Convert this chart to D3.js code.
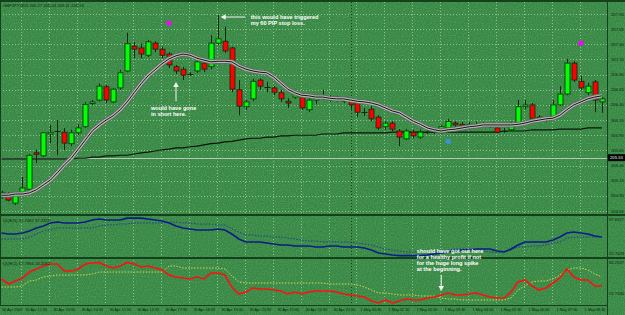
<!DOCTYPE html>
<html>
<head>
<meta charset="utf-8">
<script src="https://cdn.jsdelivr.net/npm/d3@7"></script>
<style>
html, body { margin: 0; padding: 0; background: #36823f; }
svg { display: block; font-family: "Liberation Sans", Arial, sans-serif; }
</style>
</head>
<body>
<svg id="chart" width="625" height="315"></svg>
<script>
(function() {

"use strict";

const TITLE = "GBPJPY,M15  205.27 205.44 205.11 205.53";
const QQE_SLOW_TITLE = "QQE(5) 32.7462 37.2329";
const QQE_FAST_TITLE = "QQE(1) 17.7956 19.2082";

const OPEN = [
	204.88, 204.93, 204.78, 204.96, 205.01, 205.61, 205.56, 205.92, 205.97, 205.95,
	205.76, 205.94, 206.04, 206.43, 206.48, 206.70, 206.45, 206.68, 206.96, 207.37,
	207.34, 207.22, 207.42, 207.32, 207.24, 207.03, 206.99, 206.91, 206.96, 207.09,
	207.03, 207.42, 207.45, 207.34, 206.65, 206.37, 206.50, 206.81, 206.70, 206.68,
	206.60, 206.46, 206.53, 206.53, 206.32, 206.48, 206.55, 206.53, 206.48, 206.50,
	206.45, 206.43, 206.28, 206.33, 206.20, 206.04, 206.10, 205.97, 205.84, 205.95,
	205.87, 205.95, 205.95, 205.94, 206.02, 206.10, 206.08, 206.04, 206.08, 206.08,
	206.04, 206.02, 205.97, 205.99, 206.08, 206.37, 206.40, 206.20, 206.15, 206.18,
	206.40, 206.58, 207.09, 206.79, 206.60, 206.78, 206.45,
];
const HIGH = [
	204.98, 204.96, 204.96, 205.21, 205.59, 205.66, 205.95, 206.07, 206.15, 206.02,
	205.99, 206.08, 206.45, 206.48, 206.75, 206.73, 206.68, 206.98, 207.59, 207.44,
	207.41, 207.47, 207.45, 207.36, 207.27, 207.06, 207.03, 206.94, 207.17, 207.14,
	207.55, 207.88, 207.69, 207.36, 206.81, 206.48, 206.83, 206.84, 206.78, 206.71,
	206.65, 206.51, 206.61, 206.56, 206.51, 206.55, 206.65, 206.56, 206.55, 206.53,
	206.51, 206.46, 206.35, 206.38, 206.23, 206.13, 206.13, 206.00, 206.00, 205.99,
	205.99, 205.99, 206.00, 206.07, 206.17, 206.13, 206.12, 206.12, 206.12, 206.12,
	206.10, 206.05, 206.02, 206.12, 206.48, 206.48, 206.43, 206.23, 206.18, 206.48,
	206.71, 207.16, 207.12, 206.88, 206.76, 206.81, 206.53,
];
const LOW = [
	204.85, 204.81, 204.75, 204.93, 205.00, 205.44, 205.54, 205.77, 205.57, 205.66,
	205.72, 205.90, 206.02, 206.40, 206.46, 206.43, 206.43, 206.65, 206.94, 207.17,
	207.17, 207.19, 207.27, 207.17, 207.01, 206.91, 206.81, 206.88, 206.93, 206.94,
	206.99, 207.39, 207.26, 206.61, 206.23, 206.32, 206.46, 206.65, 206.61, 206.56,
	206.45, 206.35, 206.50, 206.32, 206.28, 206.41, 206.48, 206.45, 206.45, 206.43,
	206.32, 206.20, 206.22, 206.13, 205.99, 205.99, 205.97, 205.72, 205.82, 205.85,
	205.84, 205.92, 205.92, 205.92, 205.99, 206.04, 206.00, 206.00, 206.05, 206.05,
	206.02, 205.94, 205.94, 205.97, 206.07, 206.33, 206.17, 206.15, 206.12, 206.17,
	206.38, 206.56, 206.78, 206.65, 206.56, 206.28, 206.27,
];
const CLOSE = [
	204.95, 204.83, 204.95, 205.03, 205.57, 205.59, 205.94, 205.95, 205.97, 205.77,
	205.94, 206.02, 206.41, 206.45, 206.71, 206.48, 206.66, 206.93, 207.41, 207.32,
	207.24, 207.44, 207.32, 207.22, 207.06, 206.96, 206.89, 206.91, 207.11, 206.99,
	207.42, 207.49, 207.29, 206.66, 206.38, 206.45, 206.79, 206.71, 206.70, 206.61,
	206.50, 206.43, 206.58, 206.35, 206.48, 206.51, 206.55, 206.48, 206.53, 206.46,
	206.40, 206.28, 206.28, 206.17, 206.02, 206.10, 206.00, 205.87, 205.97, 205.89,
	205.95, 205.95, 205.95, 206.04, 206.13, 206.07, 206.04, 206.08, 206.08, 206.08,
	206.07, 205.95, 205.97, 206.08, 206.37, 206.40, 206.18, 206.18, 206.15, 206.40,
	206.58, 207.09, 206.81, 206.68, 206.71, 206.48, 206.50,
];

// moving averages drawn over the candles
const MA_FAST = [
	204.91, 204.91, 204.93, 204.93, 204.95, 205.00, 205.08, 205.16, 205.28, 205.41,
	205.52, 205.67, 205.82, 205.97, 206.07, 206.15, 206.22, 206.32, 206.45, 206.60,
	206.75, 206.88, 206.98, 207.08, 207.16, 207.21, 207.24, 207.22, 207.17, 207.14,
	207.11, 207.12, 207.12, 207.11, 207.04, 206.99, 206.96, 206.94, 206.93, 206.86,
	206.76, 206.66, 206.60, 206.56, 206.55, 206.53, 206.53, 206.51, 206.50, 206.50,
	206.48, 206.46, 206.45, 206.43, 206.40, 206.35, 206.30, 206.27, 206.20, 206.13,
	206.08, 206.02, 205.99, 205.97, 205.99, 206.00, 206.02, 206.04, 206.05, 206.07,
	206.07, 206.07, 206.07, 206.07, 206.08, 206.10, 206.13, 206.15, 206.17, 206.18,
	206.23, 206.32, 206.40, 206.45, 206.50, 206.53, 206.55,
];
const MA_SLOW = [
	205.51, 205.51, 205.51, 205.51, 205.51, 205.51, 205.51, 205.51, 205.51, 205.51,
	205.51, 205.52, 205.52, 205.54, 205.54, 205.56, 205.56, 205.57, 205.57, 205.59,
	205.61, 205.62, 205.64, 205.66, 205.67, 205.69, 205.69, 205.71, 205.72, 205.74,
	205.76, 205.77, 205.79, 205.80, 205.82, 205.84, 205.85, 205.85, 205.87, 205.87,
	205.89, 205.89, 205.90, 205.90, 205.90, 205.90, 205.92, 205.92, 205.92, 205.94,
	205.94, 205.94, 205.94, 205.94, 205.94, 205.94, 205.95, 205.95, 205.95, 205.95,
	205.95, 205.95, 205.95, 205.95, 205.95, 205.95, 205.95, 205.95, 205.95, 205.95,
	205.95, 205.95, 205.97, 205.97, 205.97, 205.97, 205.99, 205.99, 205.99, 205.99,
	206.00, 206.00, 206.00, 206.00, 206.02, 206.02, 206.02,
];
const BID = 205.53;

// QQE windows
const QQE_SLOW_MAIN = [
	68, 66, 66, 68, 72, 78, 82, 88, 90, 88,
	88, 88, 90, 94, 96, 94, 94, 94, 97.7, 97.7,
	97.7, 96, 94, 92, 88, 82, 78, 76, 74, 74,
	74, 76, 74, 66, 56, 50, 50, 50, 48, 46,
	44, 44, 42, 42, 42, 40, 40, 42, 42, 40,
	40, 40, 38, 34, 28, 26, 24, 22.8, 22.8, 22.8,
	22.8, 24, 26, 28, 30, 32, 34, 34, 36, 36,
	36, 32, 30, 36, 44, 50, 50, 50, 50, 54,
	60, 68, 70, 68, 66, 62, 60,
];
const QQE_SLOW_SIGNAL = [
	56, 56, 56, 56, 60, 66, 72, 74, 78, 78,
	78, 78, 78, 78, 82, 84, 84, 86, 86, 88,
	88, 88, 88, 88, 90, 90, 88, 88, 86, 86,
	86, 84, 84, 76, 70, 64, 64, 62, 62, 60,
	60, 58, 56, 54, 52, 52, 50, 50, 50, 50,
	50, 48, 46, 44, 40, 36, 34, 32, 30, 30,
	30, 28, 28, 32, 34, 36, 36, 36, 34, 32,
	30, 30, 30, 34, 40, 40, 42, 42, 44, 48,
	50, 58, 60, 60, 60, 60, 60,
];
const QQE_FAST_MAIN = [
	66.7, 58.3, 63.3, 68.3, 78.3, 83.3, 88.3, 91.7, 91.7, 80,
	80, 83.3, 91.7, 93.3, 94.3, 88.3, 85, 88.3, 94.3, 91.7,
	86.7, 88.3, 85, 81.7, 73.3, 70, 68.3, 66.7, 70, 66.7,
	76.7, 76.7, 73.3, 53.3, 41.7, 45, 51.7, 50, 50, 48.3,
	46.7, 41.7, 45, 41.7, 45, 46.7, 46.7, 46.7, 45, 41.7,
	40, 38.3, 36.7, 30, 26.7, 31.7, 26.7, 30, 33.3, 31.7,
	31.7, 35, 36.7, 40, 43.3, 40, 40, 41.7, 43.3, 40,
	36.7, 35, 35, 45, 61.7, 65, 55, 48.3, 51.7, 60,
	68.3, 83.3, 70, 65, 65, 55, 55,
];
const QQE_FAST_SIGNAL = [
	53.3, 53.3, 53.3, 55, 63.3, 65, 70, 71.7, 73.3, 73.3,
	73.3, 73.3, 73.3, 75, 78.3, 78.3, 78.3, 78.3, 78.3, 78.3,
	78.3, 78.3, 78.3, 78.3, 88.3, 88.3, 85, 85, 85, 85,
	85, 85, 83.3, 71.7, 61.7, 60, 60, 60, 60, 60,
	60, 60, 60, 60, 60, 60, 60, 58.3, 58.3, 58.3,
	58.3, 56.7, 53.3, 48.3, 43.3, 43.3, 41.7, 40, 40, 40,
	38.3, 38.3, 38.3, 35, 33.3, 33.3, 31.7, 31.7, 31.7, 31.7,
	31.7, 31.7, 31.7, 35, 48.3, 55, 61.7, 63.3, 63.3, 66.7,
	73.3, 81.7, 85, 85, 81.7, 75, 70,
];

const PRICE_TICKS = [207.90, 207.65, 207.40, 207.15, 206.90, 206.65, 206.40, 206.15, 205.90, 205.65, 205.40, 205.15, 204.90, 204.65];
const QQE_SLOW_RANGE = [22.7629, 97.6627];
const QQE_FAST_RANGE = [23.7340, 94.2627];

const TIME_BARS = [0, 3, 7, 11, 15, 19, 23, 27, 31, 35, 39, 43, 47, 51, 55, 59, 63, 67, 71, 75, 79, 83];
const TIME_LABELS = [
	"30 Apr 2009", "30 Apr 12:30", "30 Apr 13:30", "30 Apr 14:30", "30 Apr 15:30", "30 Apr 16:30",
	"30 Apr 17:30", "30 Apr 18:30", "30 Apr 19:30", "30 Apr 20:30", "30 Apr 21:30", "30 Apr 22:30",
	"30 Apr 23:30", "1 May 00:30", "1 May 01:30", "1 May 02:30", "1 May 03:30", "1 May 04:30",
	"1 May 05:30", "1 May 06:30", "1 May 07:30", "1 May 08:30",
];
const DAY_BREAK_BAR = 50;

const SIGNALS = [
	{bar: 24, price: 207.75, color: "#ff00ff"},
	{bar: 83, price: 207.42, color: "#ff00ff"},
	{bar: 64, price: 205.80, color: "#3d8fe0"},
];

const W = 625, H = 315;
const RIGHT = 607;
const MAIN = {top: 2, bottom: 214};
const SLOW = {top: 216, bottom: 257};
const FAST = {top: 259, bottom: 305};

const svg = d3.select("#chart");
const defs = svg.append("defs");

let grain = defs.append("filter").attr("id", "grain").attr("x", 0).attr("y", 0).attr("width", 1).attr("height", 1);
grain.append("feTurbulence").attr("type", "fractalNoise").attr("baseFrequency", 0.85).attr("numOctaves", 1).attr("seed", 4);
grain.append("feColorMatrix").attr("type", "matrix")
	.attr("values", "0 0 0 0 0.15  0 0 0 0 0.45  0 0 0 0 0.2  0 0 0 -2.2 1.35");

svg.append("rect").attr("width", W).attr("height", H).attr("fill", "#388743");
svg.append("rect").attr("width", W).attr("height", H).attr("filter", "url(#grain)").attr("opacity", 0.5);

let x = d3.scaleLinear().domain([0, OPEN.length - 1]).range([1.5, 601.8]);
let y = d3.scaleLinear().domain([204.65, 207.90]).range([211, 14]);
let ySlow = d3.scaleLinear().domain([20, 100]).range([257, 217]);
let yFast = d3.scaleLinear().domain([0, 100]).range([319, 259]);
let px = i => Math.round(x(i)) + 0.5;

// grid
let grid = svg.append("g").attr("stroke", "#a6d3a6").attr("stroke-width", 1)
	.attr("stroke-dasharray", "1,2").attr("opacity", 0.75);
grid.selectAll("line.h").data(PRICE_TICKS).join("line")
	.attr("x1", 0).attr("x2", RIGHT)
	.attr("y1", d => Math.round(y(d)) + 0.5).attr("y2", d => Math.round(y(d)) + 0.5);
grid.selectAll("line.v").data(TIME_BARS.slice(1)).join("line")
	.attr("x1", d => px(d) - 1).attr("x2", d => px(d) - 1)
	.attr("y1", MAIN.top).attr("y2", FAST.bottom);

svg.append("line")
	.attr("x1", px(DAY_BREAK_BAR)).attr("x2", px(DAY_BREAK_BAR))
	.attr("y1", MAIN.top).attr("y2", FAST.bottom)
	.attr("stroke", "#173d1d").attr("stroke-dasharray", "1,2");

// bid line
svg.append("line").attr("x1", 0).attr("x2", RIGHT)
	.attr("y1", Math.round(y(BID)) + 0.5).attr("y2", Math.round(y(BID)) + 0.5)
	.attr("stroke", "#b3c9b3").attr("stroke-width", 1);

// slow moving average
svg.append("path").datum(MA_SLOW)
	.attr("fill", "none").attr("stroke", "#0a140a").attr("stroke-width", 1.2)
	.attr("d", d3.line().x((d, i) => x(i)).y(d => y(d)));

// candles
let bars = OPEN.map((o, i) => ({i, o, h: HIGH[i], l: LOW[i], c: CLOSE[i]}));
let candle = svg.append("g").selectAll("g").data(bars).join("g");
candle.append("line")
	.attr("x1", d => px(d.i)).attr("x2", d => px(d.i))
	.attr("y1", d => y(d.h)).attr("y2", d => y(d.l))
	.attr("stroke", "#0c2a0e");
candle.filter(d => d.o !== d.c).append("rect")
	.attr("x", d => px(d.i) - 2.5).attr("width", 5)
	.attr("y", d => y(Math.max(d.o, d.c)))
	.attr("height", d => Math.max(1.5, Math.abs(y(d.o) - y(d.c))))
	.attr("fill", d => d.c > d.o ? "#00ff00" : "#ff0000")
	.attr("stroke", "#0c2a0e").attr("stroke-width", 0.8);
candle.filter(d => d.o === d.c).append("line")
	.attr("x1", d => px(d.i) - 3).attr("x2", d => px(d.i) + 3)
	.attr("y1", d => Math.round(y(d.o)) + 0.5).attr("y2", d => Math.round(y(d.o)) + 0.5)
	.attr("stroke", "#0c2a0e");

// fast moving average, drawn as a ribbon
let maLine = d3.line().x((d, i) => x(i)).y(d => y(d));
[["#5f6d60", 5], ["#b4b8b4", 3.2], ["#151515", 1]].forEach(([color, width]) => {
	svg.append("path").datum(MA_FAST)
		.attr("fill", "none").attr("stroke", color).attr("stroke-width", width)
		.attr("stroke-linejoin", "round")
		.attr("d", maLine);
});

svg.selectAll("circle.signal").data(SIGNALS).join("circle")
	.attr("cx", d => x(d.bar)).attr("cy", d => y(d.price)).attr("r", 2.6)
	.attr("fill", d => d.color);

// QQE panels
function drawPanel(main, signal, scale, colors) {
	svg.append("path").datum(signal)
		.attr("fill", "none").attr("stroke", colors[1]).attr("stroke-width", 1)
		.attr("stroke-dasharray", "1.5,1.5")
		.attr("d", d3.line().x((d, i) => x(i)).y(d => scale(d)));
	svg.append("path").datum(main)
		.attr("fill", "none").attr("stroke", colors[0]).attr("stroke-width", 1.6)
		.attr("d", d3.line().x((d, i) => x(i)).y(d => scale(d)));
}
drawPanel(QQE_SLOW_MAIN, QQE_SLOW_SIGNAL, ySlow, ["#0b1c8a", "#1f3f8f"]);
drawPanel(QQE_FAST_MAIN, QQE_FAST_SIGNAL, yFast, ["#ff1010", "#d6d84e"]);

// frame
let frame = svg.append("g").attr("stroke", "#15401c");
frame.append("line").attr("x1", 0).attr("x2", W).attr("y1", 1).attr("y2", 1).attr("stroke-width", 2);
frame.append("line").attr("x1", 0.5).attr("x2", 0.5).attr("y1", 0).attr("y2", FAST.bottom);
frame.append("line").attr("x1", RIGHT + 0.5).attr("x2", RIGHT + 0.5).attr("y1", 0).attr("y2", H);
[MAIN.bottom + 1, SLOW.bottom + 1].forEach(v => {
	frame.append("line").attr("x1", 0).attr("x2", W).attr("y1", v).attr("y2", v).attr("stroke-width", 2);
});
frame.append("line").attr("x1", 0).attr("x2", RIGHT).attr("y1", FAST.bottom + 0.5).attr("y2", FAST.bottom + 0.5);

// texts
let label = svg.append("g").attr("fill", "#0b220d").attr("font-size", 4.2);
label.append("text").attr("x", 3).attr("y", 7).text(TITLE);
label.append("text").attr("x", 3).attr("y", SLOW.top + 6).text(QQE_SLOW_TITLE);
label.append("text").attr("x", 3).attr("y", FAST.top + 6).text(QQE_FAST_TITLE);
label.selectAll("text.price").data(PRICE_TICKS).join("text")
	.attr("x", RIGHT + 4).attr("y", d => y(d) + 1.5).text(d => d.toFixed(2));
label.append("text").attr("x", RIGHT + 2).attr("y", SLOW.top + 5).text(QQE_SLOW_RANGE[1].toFixed(4));
label.append("text").attr("x", RIGHT + 2).attr("y", SLOW.bottom - 2).text(QQE_SLOW_RANGE[0].toFixed(4));
label.append("text").attr("x", RIGHT + 2).attr("y", FAST.top + 5).text(QQE_FAST_RANGE[1].toFixed(4));
label.append("text").attr("x", RIGHT + 2).attr("y", FAST.bottom - 10).text(QQE_FAST_RANGE[0].toFixed(4));
label.selectAll("text.time").data(TIME_BARS).join("text")
	.attr("font-size", 3.8)
	.attr("x", (d, i) => i === 0 ? 2 : px(d) + 3).attr("y", 311)
	.text((d, i) => TIME_LABELS[i]);

svg.append("rect").attr("x", RIGHT + 1).attr("y", y(BID) - 3.5).attr("width", 17).attr("height", 7).attr("fill", "#050805");
svg.append("text").attr("x", RIGHT + 3).attr("y", y(BID) + 1.5).attr("font-size", 4.2).attr("fill", "#e8e8e8").text(BID.toFixed(2));

// annotations
let note = svg.append("g").attr("fill", "#ffffff").attr("font-size", 5.6).attr("font-weight", "bold");
function lines(bar, top, rows) {
	note.append("text").attr("x", x(bar)).attr("y", top).selectAll("tspan").data(rows).join("tspan")
		.attr("x", x(bar)).attr("dy", (d, i) => i ? 6.2 : 0).text(d => d);
}
lines(35.7, 18.5, ["this would have triggered", "my 60 PIP stop loss."]);
lines(21.4, 110, ["would have gone", "in short here."]);
lines(59.5, 252.5, ["should have got out here", "for a healthy profit if not", "for the huge long spike", "at the beginning."]);

let arrows = svg.append("g").attr("stroke", "#f4f4f4").attr("fill", "#f4f4f4").attr("stroke-width", 1);
arrows.append("line").attr("x1", x(34.9)).attr("x2", x(31.4) + 3).attr("y1", y(207.85)).attr("y2", y(207.85));
arrows.append("path").attr("stroke", "none")
	.attr("d", `M${x(31.4)},${y(207.85)}l5,-2.8v5.6z`);
arrows.append("line").attr("x1", x(25)).attr("x2", x(25)).attr("y1", y(206.46)).attr("y2", y(206.78) + 3);
arrows.append("path").attr("stroke", "none")
	.attr("d", `M${x(25)},${y(206.78)}l-2.8,5h5.6z`);
arrows.append("line").attr("x1", x(63)).attr("x2", x(63)).attr("y1", 275).attr("y2", 287);
arrows.append("path").attr("stroke", "none").attr("d", `M${x(63)},291l-2.8,-5h5.6z`);

})();
</script>
</body>
</html>
